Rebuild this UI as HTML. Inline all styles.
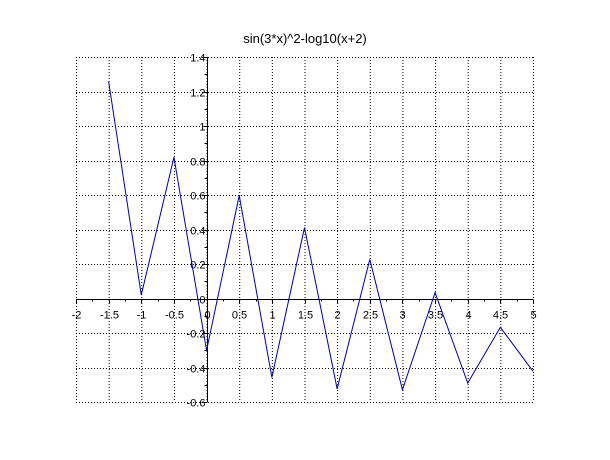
<!DOCTYPE html>
<html><head><meta charset="utf-8"><style>
html,body{margin:0;padding:0;background:#fff;}
svg{display:block;font-family:"Liberation Sans",sans-serif;}
</style></head><body>
<svg id="chart" width="610" height="460">
<text x="305" y="43" font-size="13" text-anchor="middle" fill="#000">sin(3*x)^2-log10(x+2)</text>
<g id="grid"></g><g id="axes"></g><g id="series"></g>
</svg>
<script>
const xTicks=[-2,-1.5,-1,-0.5,0,0.5,1,1.5,2,2.5,3,3.5,4,4.5,5];
const xTickLabels=["-2","-1.5","-1","-0.5","0","0.5","1","1.5","2","2.5","3","3.5","4","4.5","5"];
const yTicks=[-0.6,-0.4,-0.2,0,0.2,0.4,0.6,0.8,1,1.2,1.4];
const yTickLabels=["-0.6","-0.4","-0.2","0","0.2","0.4","0.6","0.8","1","1.2","1.4"];
const xValues=[-1.5,-1,-0.5,0,0.5,1,1.5,2,2.5,3,3.5,4,4.5,5];
const yValues=[1.257,0.020,0.819,-0.301,0.597,-0.457,0.411,-0.524,0.227,-0.529,0.034,-0.490,-0.167,-0.422];

const L=76,R=533,T=57,B=402,xMin=-2,xMax=5,yMin=-0.6,yMax=1.4;
const sx=v=>L+(v-xMin)/(xMax-xMin)*(R-L);
const sy=v=>B-(v-yMin)/(yMax-yMin)*(B-T);
const NS="http://www.w3.org/2000/svg";
function mk(tag,attrs,parent){const e=document.createElementNS(NS,tag);for(const k in attrs)e.setAttribute(k,attrs[k]);parent.appendChild(e);return e;}
const grid=document.getElementById('grid'),axes=document.getElementById('axes'),series=document.getElementById('series');
const dash={stroke:"#000","stroke-width":1,"stroke-dasharray":"1,2"};
xTicks.forEach(v=>{const l=mk('line',Object.assign({x1:sx(v)+0.5,x2:sx(v)+0.5,y1:T,y2:B},dash),grid);

});
yTicks.forEach(v=>{const l=mk('line',Object.assign({x1:L,x2:R,y1:Math.round(sy(v))+0.5,y2:Math.round(sy(v))+0.5},dash),grid);

});
const x0=Math.round(sx(0))+0.5,y0=Math.round(sy(0))+0.5;
const xa=mk('line',{x1:L,x2:R,y1:y0,y2:y0,stroke:"#000","stroke-width":1},axes);


const ya=mk('line',{x1:x0,x2:x0,y1:T,y2:B,stroke:"#000","stroke-width":1},axes);


xTicks.forEach((v,i)=>{const x=Math.round(sx(v))+0.5;
mk('line',{x1:x,x2:x,y1:y0,y2:y0+4,stroke:"#000"},axes);
const t=mk('text',{x:x,y:y0+19,"font-size":11,"text-anchor":"middle",fill:"#000"},axes);t.textContent=xTickLabels[i];


if(i<xTicks.length-1){const xm=Math.round(sx(v+0.25))+0.5;mk('line',{x1:xm,x2:xm,y1:y0,y2:y0+2,stroke:"#000"},axes);}});
yTicks.forEach((v,i)=>{const y=Math.round(sy(v))+0.5;
mk('line',{x1:x0-4,x2:x0,y1:y,y2:y,stroke:"#000"},axes);
const t=mk('text',{x:x0-2,y:y+4,"font-size":11,"text-anchor":"end",fill:"#000"},axes);t.textContent=yTickLabels[i];


if(i<yTicks.length-1){const ym=Math.round(sy(v+0.1))+0.5;mk('line',{x1:x0-3,x2:x0,y1:ym,y2:ym,stroke:"#000"},axes);}});
const pts=xValues.map((x,i)=>sx(x)+","+sy(yValues[i])).join(" ");
const pl=mk('polyline',{points:pts,fill:"none",stroke:"#0000a0","stroke-width":1},series);


</script>
</body></html>
